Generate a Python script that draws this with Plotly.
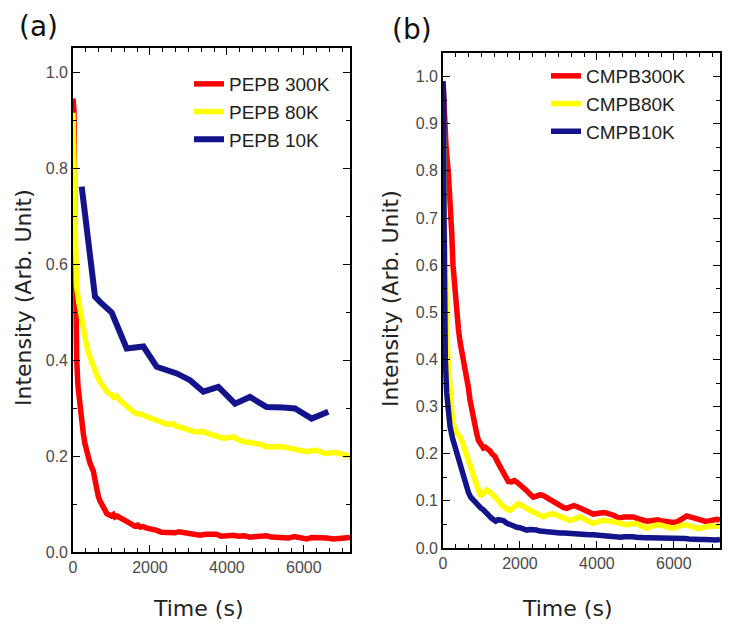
import plotly.graph_objects as go

# ---------------- Data: panel (a) PEPB ----------------
pepb300_t = [0, 25, 40, 55, 75, 96, 130, 182, 230, 270, 312, 360, 400, 440, 480, 530, 572, 615, 660, 710,
             760, 830, 880, 950, 1000, 1050, 1090, 1150, 1230, 1300, 1380, 1450, 1520, 1600, 1680, 1750, 1830,
             1900, 2000, 2100, 2180, 2300, 2440, 2550, 2650, 2750, 2870, 3000, 3150, 3300, 3450, 3600, 3730,
             3850, 4000, 4170, 4300, 4450, 4600, 4750, 4900, 5030, 5150, 5300, 5470, 5600, 5750, 5900, 6070,
             6200, 6420, 6600, 6770, 6950, 7100, 7200]
pepb300_v = [0.945, 0.92, 0.75, 0.60, 0.48, 0.40, 0.345, 0.296, 0.26, 0.245, 0.225, 0.205, 0.192, 0.185, 0.178,
             0.168, 0.150, 0.125, 0.115, 0.105, 0.098, 0.086, 0.080, 0.077, 0.075, 0.078, 0.073, 0.075, 0.072,
             0.068, 0.066, 0.061, 0.058, 0.054, 0.056, 0.052, 0.053, 0.050, 0.049, 0.047, 0.045, 0.041, 0.040,
             0.041, 0.040, 0.042, 0.040, 0.039, 0.036, 0.035, 0.037, 0.036, 0.037, 0.033, 0.035, 0.035, 0.033,
             0.034, 0.031, 0.032, 0.033, 0.034, 0.031, 0.030, 0.031, 0.029, 0.032, 0.031, 0.027, 0.030, 0.030,
             0.029, 0.027, 0.029, 0.031, 0.030]

pepb80_t = [0, 30, 45, 55, 90, 150, 200, 270, 330, 400, 470, 540, 620, 700, 790, 870, 950, 1000, 1060, 1130,
            1220, 1300, 1400, 1480, 1570, 1650, 1740, 1830, 1920, 2000, 2090, 2200, 2350, 2450, 2600, 2700,
            2870, 3000, 3130, 3250, 3390, 3500, 3650, 3800, 3910, 4050, 4170, 4300, 4430, 4600, 4770, 4900,
            5030, 5200, 5350, 5470, 5600, 5730, 5900, 6070, 6200, 6330, 6450, 6590, 6700, 6850, 7000, 7200]
pepb80_v = [0.915, 0.80, 0.66, 0.60, 0.555, 0.52, 0.495, 0.465, 0.44, 0.415, 0.398, 0.385, 0.368, 0.355, 0.342,
            0.335, 0.330, 0.328, 0.322, 0.325, 0.316, 0.310, 0.303, 0.298, 0.292, 0.288, 0.288, 0.285, 0.282,
            0.280, 0.278, 0.272, 0.268, 0.266, 0.267, 0.262, 0.258, 0.254, 0.251, 0.250, 0.251, 0.247, 0.244,
            0.240, 0.237, 0.238, 0.240, 0.234, 0.230, 0.228, 0.227, 0.224, 0.219, 0.221, 0.220, 0.219, 0.217,
            0.214, 0.212, 0.209, 0.211, 0.212, 0.208, 0.205, 0.207, 0.207, 0.204, 0.199]

pepb10_t = [226, 572, 702, 1006, 1395, 1742, 1830, 2175, 2435, 2695, 3042, 3388, 3778, 4211, 4600, 5033,
            5466, 5770, 6203, 6636]
pepb10_v = [0.761, 0.532, 0.521, 0.499, 0.424, 0.426, 0.428, 0.386, 0.379, 0.372, 0.358, 0.334, 0.344, 0.309,
            0.323, 0.302, 0.301, 0.299, 0.278, 0.292]

# ---------------- Data: panel (b) CMPB ----------------
cmpb300_t = [0, 30, 80, 138, 182, 226, 260, 312, 355, 400, 442, 485, 530, 570, 615, 660, 702, 750, 788, 832,
             870, 918, 960, 1000, 1049, 1100, 1136, 1180, 1222, 1270, 1352, 1420, 1480, 1525, 1600, 1650, 1698,
             1780, 1850, 1915, 2000, 2088, 2170, 2250, 2348, 2430, 2520, 2608, 2700, 2780, 2868, 2950, 3050,
             3130, 3215, 3300, 3400, 3475, 3560, 3650, 3735, 3820, 3908, 4000, 4100, 4180, 4255, 4350, 4450,
             4530, 4602, 4700, 4800, 4880, 4948, 5050, 5150, 5230, 5295, 5400, 5500, 5580, 5642, 5750, 5850,
             5920, 5988, 6100, 6200, 6280, 6334, 6420, 6500, 6594, 6700, 6780, 6854, 6950, 7050, 7120, 7200]
cmpb300_v = [0.99, 0.92, 0.85, 0.796, 0.75, 0.67, 0.60, 0.54, 0.495, 0.465, 0.438, 0.42, 0.40, 0.385, 0.366,
             0.34, 0.314, 0.29, 0.279, 0.258, 0.245, 0.229, 0.222, 0.215, 0.212, 0.214, 0.212, 0.208, 0.206,
             0.200, 0.194, 0.182, 0.172, 0.166, 0.155, 0.146, 0.141, 0.140, 0.143, 0.140, 0.135, 0.130, 0.122,
             0.115, 0.108, 0.110, 0.113, 0.111, 0.107, 0.105, 0.101, 0.096, 0.090, 0.086, 0.084, 0.087, 0.090,
             0.088, 0.085, 0.082, 0.080, 0.075, 0.072, 0.073, 0.075, 0.075, 0.074, 0.072, 0.069, 0.065, 0.064,
             0.066, 0.067, 0.066, 0.066, 0.063, 0.061, 0.058, 0.057, 0.058, 0.060, 0.060, 0.058, 0.057, 0.055,
             0.057, 0.054, 0.056, 0.062, 0.067, 0.068, 0.066, 0.064, 0.062, 0.058, 0.057, 0.056, 0.058, 0.060,
             0.061, 0.059]

cmpb80_t = [0, 26, 40, 52, 69, 96, 130, 156, 182, 230, 270, 312, 360, 400, 442, 500, 560, 615, 660, 700, 750,
            788, 830, 880, 920, 962, 1000, 1050, 1100, 1135, 1200, 1270, 1352, 1420, 1500, 1568, 1650, 1742,
            1820, 1900, 1958, 2030, 2100, 2175, 2260, 2350, 2435, 2520, 2608, 2700, 2790, 2868, 2950, 3040,
            3128, 3220, 3302, 3400, 3480, 3562, 3650, 3750, 3830, 3908, 4000, 4080, 4168, 4250, 4350, 4430,
            4515, 4600, 4700, 4775, 4860, 4950, 5035, 5120, 5200, 5295, 5380, 5460, 5560, 5642, 5730, 5820,
            5900, 5988, 6080, 6160, 6250, 6334, 6420, 6500, 6600, 6680, 6780, 6870, 6950, 7050, 7120, 7200]
cmpb80_v = [0.912, 0.85, 0.70, 0.60, 0.52, 0.47, 0.40, 0.36, 0.328, 0.29, 0.262, 0.25, 0.243, 0.240, 0.236,
            0.225, 0.210, 0.196, 0.185, 0.172, 0.16, 0.151, 0.140, 0.128, 0.118, 0.113, 0.112, 0.118, 0.122,
            0.123, 0.120, 0.115, 0.109, 0.103, 0.093, 0.087, 0.083, 0.080, 0.086, 0.092, 0.094, 0.091, 0.087,
            0.084, 0.080, 0.076, 0.073, 0.068, 0.066, 0.070, 0.073, 0.073, 0.070, 0.067, 0.066, 0.061, 0.058,
            0.061, 0.065, 0.066, 0.062, 0.058, 0.054, 0.052, 0.055, 0.058, 0.059, 0.058, 0.057, 0.056, 0.056,
            0.053, 0.050, 0.049, 0.051, 0.052, 0.052, 0.048, 0.045, 0.042, 0.045, 0.048, 0.049, 0.049, 0.046,
            0.044, 0.043, 0.042, 0.045, 0.048, 0.049, 0.049, 0.046, 0.044, 0.042, 0.042, 0.044, 0.046, 0.047,
            0.046, 0.047, 0.047]

cmpb10_t = [0, 20, 26, 35, 60, 96, 140, 182, 250, 312, 355, 398, 450, 528, 600, 660, 720, 788, 850, 920, 980,
            1049, 1120, 1200, 1250, 1308, 1370, 1430, 1500, 1568, 1650, 1740, 1828, 1920, 2000, 2090, 2175,
            2260, 2350, 2430, 2520, 2608, 2700, 2800, 2900, 3042, 3150, 3250, 3350, 3475, 3600, 3700, 3800,
            3900, 3995, 4100, 4200, 4300, 4400, 4515, 4620, 4720, 4820, 4920, 5035, 5150, 5250, 5350, 5450,
            5555, 5650, 5760, 5870, 5980, 6075, 6200, 6300, 6400, 6500, 6594, 6700, 6800, 6900, 7000, 7100,
            7200]
cmpb10_v = [0.99, 0.95, 0.70, 0.50, 0.40, 0.329, 0.29, 0.258, 0.232, 0.215, 0.196, 0.187, 0.170, 0.147, 0.130,
            0.118, 0.108, 0.101, 0.096, 0.090, 0.085, 0.081, 0.073, 0.068, 0.064, 0.059, 0.057, 0.060, 0.060,
            0.058, 0.053, 0.049, 0.046, 0.044, 0.043, 0.040, 0.038, 0.039, 0.040, 0.038, 0.036, 0.035, 0.034,
            0.033, 0.033, 0.032, 0.032, 0.031, 0.030, 0.030, 0.028, 0.027, 0.028, 0.028, 0.027, 0.026, 0.025,
            0.025, 0.025, 0.024, 0.023, 0.024, 0.025, 0.024, 0.023, 0.024, 0.022, 0.022, 0.022, 0.021, 0.022,
            0.021, 0.020, 0.020, 0.021, 0.020, 0.020, 0.019, 0.018, 0.019, 0.018, 0.018, 0.017, 0.016, 0.017,
            0.018]

x_ticks = [0, 2000, 4000, 6000]
RED, YELLOW, BLUE = "#ff0000", "#ffff00", "#13138c"

fig = go.Figure()
series_a = [("PEPB 300K", pepb300_t, pepb300_v, RED, 5.5),
            ("PEPB 80K", pepb80_t, pepb80_v, YELLOW, 5.5),
            ("PEPB 10K", pepb10_t, pepb10_v, BLUE, 6)]
series_b = [("CMPB300K", cmpb300_t, cmpb300_v, RED, 5.5),
            ("CMPB80K", cmpb80_t, cmpb80_v, YELLOW, 5.5),
            ("CMPB10K", cmpb10_t, cmpb10_v, BLUE, 5.5)]
for name, t, v, c, w in series_a:
    fig.add_trace(go.Scatter(x=t, y=v, name=name, mode="lines",
                             line=dict(color=c, width=w), xaxis="x", yaxis="y", legend="legend"))
for name, t, v, c, w in series_b:
    fig.add_trace(go.Scatter(x=t, y=v, name=name, mode="lines",
                             line=dict(color=c, width=w), xaxis="x2", yaxis="y2", legend="legend2"))

# page has an 8px body margin; figure fills the rest of the 733x631 window
OFF = 8
W, H = 733 - 2 * OFF, 631 - 2 * OFF
def px_x(p): return (p - OFF) / W
def px_y(p): return 1 - (p - OFF) / H

tickfont = dict(family="Liberation Sans, Arial", size=16, color="#4a4a4a")
common = dict(showline=True, linecolor="black", linewidth=1.6, mirror="ticks", ticks="inside",
              ticklen=7, tickwidth=1.3, tickcolor="black", showgrid=False, zeroline=False,
              tickfont=tickfont, layer="above traces")
minor_x = dict(ticks="inside", ticklen=4, tickwidth=1.1, tickcolor="black", dtick=2000 / 6, tick0=0,
               showgrid=False)
xcommon = dict(common, range=[0, 7200], tickvals=x_ticks, minor=minor_x)

fig.update_layout(
    width=W, height=H, margin=dict(l=0, r=0, t=0, b=0, autoexpand=False),
    paper_bgcolor="white", plot_bgcolor="white",
    xaxis=dict(xcommon, domain=[px_x(73), px_x(350)], anchor="y"),
    yaxis=dict(common, domain=[px_y(552), px_y(48)], range=[0, 1.05], dtick=0.2, tick0=0,
               tickformat=".1f", anchor="x",
               minor=dict(ticks="inside", ticklen=4, tickwidth=1.1, tickcolor="black", dtick=0.1,
                          showgrid=False)),
    xaxis2=dict(xcommon, domain=[px_x(443), px_x(720)], anchor="y2"),
    yaxis2=dict(common, domain=[px_y(548), px_y(53)], range=[0, 1.05], dtick=0.1, tick0=0,
                tickformat=".1f", anchor="x2",
                minor=dict(ticks="inside", ticklen=4, tickwidth=1.1, tickcolor="black", dtick=0.05,
                           showgrid=False)),
    legend=dict(x=px_x(189), y=px_y(65), xanchor="left", yanchor="top", bgcolor="rgba(0,0,0,0)",
                font=dict(family="Liberation Sans, Arial", size=19, color="#222"), tracegroupgap=0),
    legend2=dict(x=px_x(546), y=px_y(57), xanchor="left", yanchor="top", bgcolor="rgba(0,0,0,0)",
                 font=dict(family="Liberation Sans, Arial", size=19, color="#222"), tracegroupgap=0),
    showlegend=True,
)

title_font = dict(family="DejaVu Sans", size=22, color="#222")
annots = [
    dict(text="Intensity (Arb. Unit)", x=px_x(23), y=px_y(298), textangle=-90, font=title_font),
    dict(text="Intensity (Arb. Unit)", x=px_x(390), y=px_y(298), textangle=-90, font=title_font),
    dict(text="Time (s)", x=px_x(198), y=px_y(608), font=title_font),
    dict(text="Time (s)", x=px_x(567), y=px_y(608), font=title_font),
    dict(text="(a)", x=px_x(38), y=px_y(26), font=dict(family="DejaVu Sans", size=28, color="#111")),
    dict(text="(b)", x=px_x(412), y=px_y(29), font=dict(family="DejaVu Sans", size=28, color="#111")),
]
for a in annots:
    fig.add_annotation(xref="paper", yref="paper", showarrow=False, xanchor="center", yanchor="middle", **a)

fig.write_html("out.html")
